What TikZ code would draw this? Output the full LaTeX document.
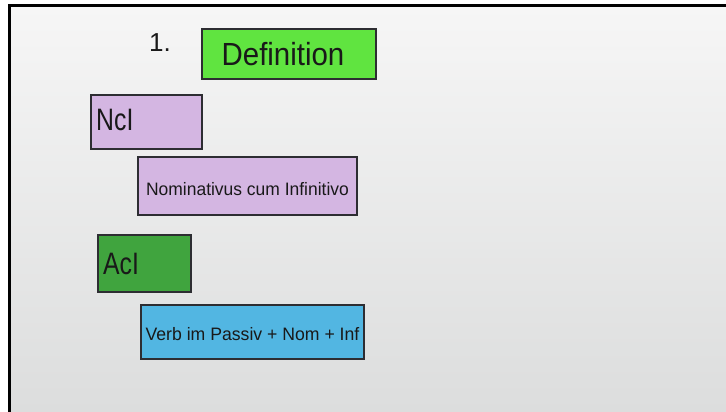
\documentclass[tikz,border=0pt]{standalone}
\usepackage{fontspec}
\setmainfont{Liberation Sans}
\definecolor{bgtop}{RGB}{246,246,246}
\definecolor{bgbot}{RGB}{220,221,221}
\definecolor{defgreen}{RGB}{96,228,64}
\definecolor{lavender}{RGB}{212,182,226}
\definecolor{acigreen}{RGB}{64,164,62}
\definecolor{skyblue}{RGB}{82,182,226}
\definecolor{edge}{RGB}{45,45,50}
\begin{document}
\begin{tikzpicture}[x=1pt,y=-1pt,
  card/.style={draw=edge,line width=2pt,anchor=north west,inner sep=0pt,
    text=black!90, align=center},
  label/.style={inner sep=0pt,text=black!90},
]
\useasboundingbox (0,0) rectangle (726,412);
\fill[white] (0,0) rectangle (726,412);
\shade[top color=bgtop,bottom color=bgbot] (9.5,6) rectangle (726,412);
\draw[black,line width=3pt] (9.5,412) -- (9.5,6) -- (726,6);
\node[label,font=\fontsize{26}{28}\selectfont] (num) at (160,43) {1.};
\node[card,fill=defgreen,minimum width=174pt,minimum height=50pt] (def) at (201,28) {};
\node[label,font=\fontsize{32}{34}\selectfont] (deft) at ([xshift=-6pt]def.center) {\scalebox{0.92}[1]{Definition}};
\node[card,fill=lavender,minimum width=111pt,minimum height=54pt] (nci) at (90,94) {};
\node[label,anchor=west,font=\fontsize{31}{33}\selectfont] (ncit) at ([xshift=6pt,yshift=2pt]nci.west) {\scalebox{0.8}[1]{NcI}};
\node[card,fill=lavender,minimum width=219pt,minimum height=58pt] (nom) at (137,156) {};
\node[label,font=\fontsize{18}{20}\selectfont] (nomt) at ([yshift=-3pt]nom.center) {\scalebox{0.97}[1]{Nominativus cum Infinitivo}};
\node[card,fill=acigreen,minimum width=93pt,minimum height=57pt] (aci) at (97,234) {};
\node[label,anchor=west,font=\fontsize{31}{33}\selectfont] (acit) at ([xshift=6pt]aci.west) {\scalebox{0.8}[1]{AcI}};
\node[card,fill=skyblue,minimum width=223pt,minimum height=54pt] (verb) at (140,304) {};
\node[label,font=\fontsize{18}{20}\selectfont] (verbt) at ([yshift=-2pt]verb.center) {\scalebox{0.98}[1]{Verb im Passiv + Nom + Inf}};
\end{tikzpicture}
\end{document}
